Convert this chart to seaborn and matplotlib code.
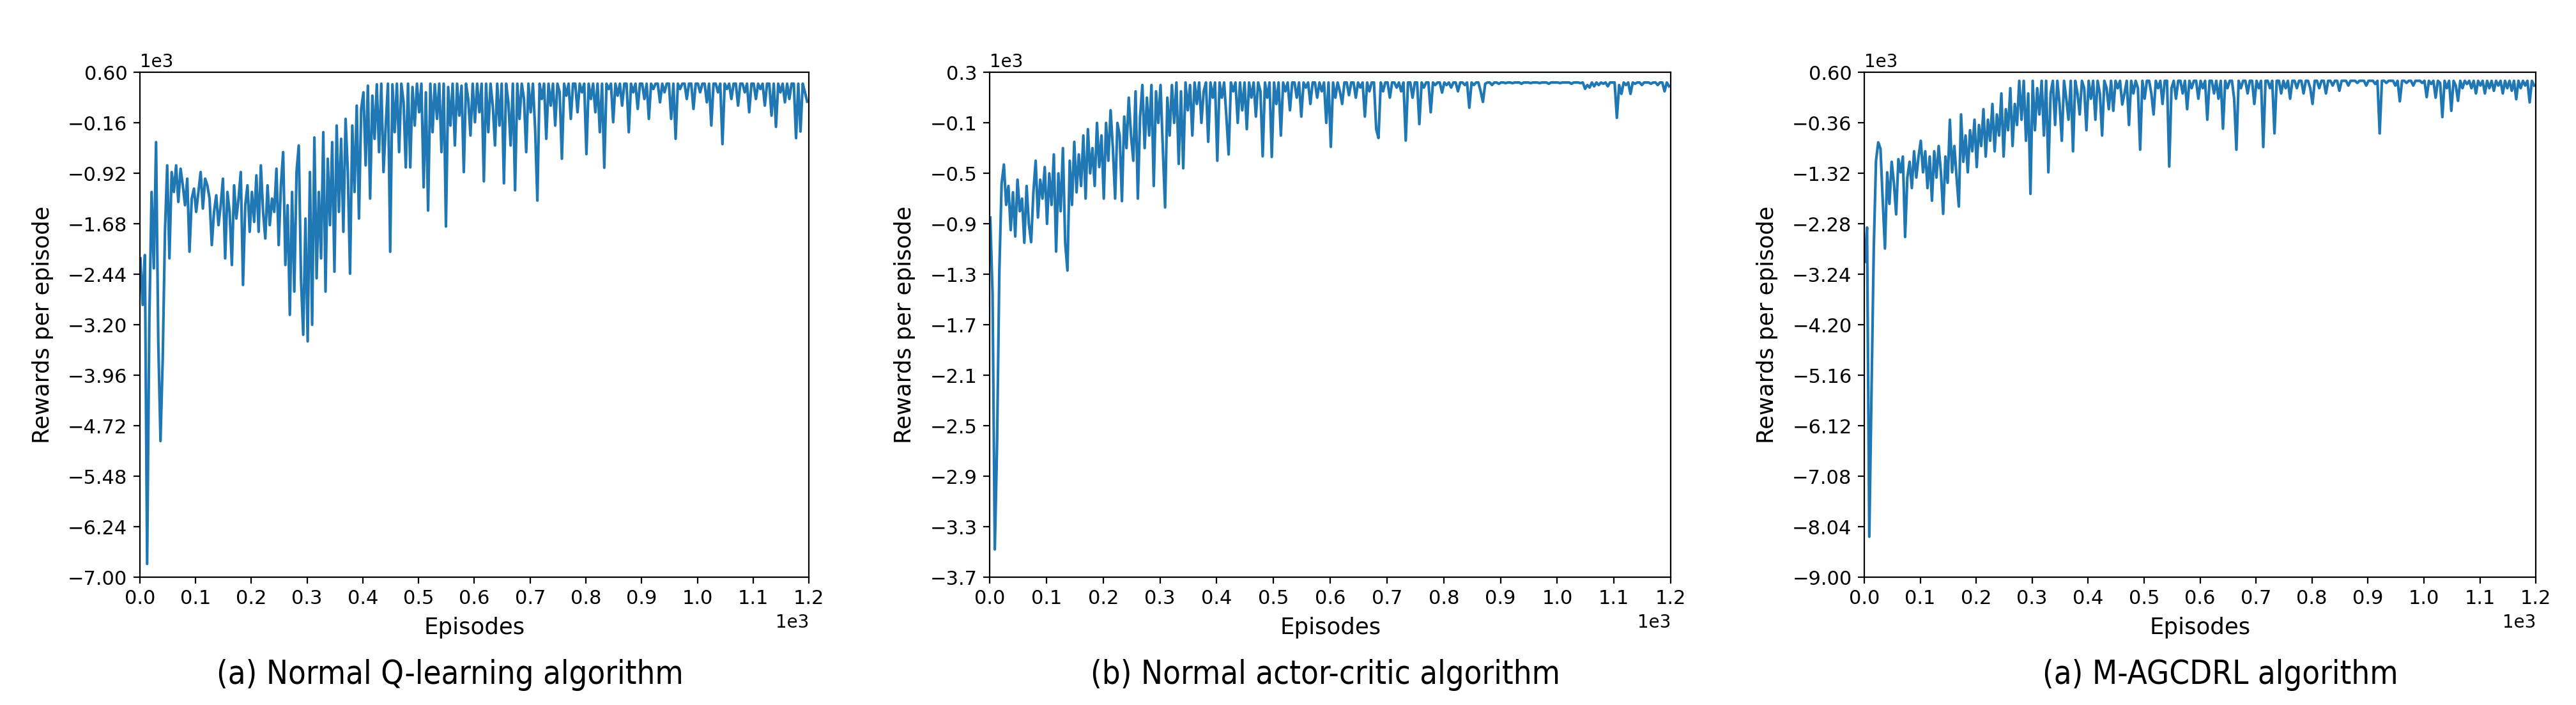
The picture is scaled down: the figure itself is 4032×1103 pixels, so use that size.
import numpy as np
import pandas as pd
import matplotlib
matplotlib.use("Agg")
import matplotlib.pyplot as plt
from matplotlib import font_manager as fm
import seaborn as sns

# Episodes sampled every 4 episodes (1, 5, 9, ..., 1197)
EPISODES = list(range(1, 1201, 4))

# (a) Normal Q-learning algorithm rewards
Q_LEARNING = [
    -2200, -2900, -2150, -6800, -3100, -1200, -2350, -450, -3450, -4950,
    -3700, -1800, -800, -2200, -900, -1200, -800, -1350, -850, -1100,
    -1400, -1000, -2100, -1300, -1150, -1500, -1200, -900, -1450, -1000,
    -1100, -1300, -2000, -1500, -1250, -1700, -1400, -1000, -2200, -1200,
    -1500, -2300, -1100, -1600, -1300, -900, -2600, -1400, -1100, -1800,
    -1200, -1650, -950, -1800, -800, -1500, -1900, -1100, -1700, -1300,
    -1500, -850, -2000, -1100, -600, -2300, -1400, -3050, -1200, -2700,
    -900, -500, -2500, -3350, -1600, -3450, -900, -3200, -380, -2500,
    -1200, -2200, -300, -2700, -700, -1700, -450, -2400, -200, -1500,
    -400, -1800, -100, -900, -2430, -200, -1200, 100, -1600, 50,
    300, -800, 400, -1300, 250, -400, 420, -600, 430, -900,
    -200, 430, -2100, 420, -300, 430, -600, 430, 150, -830,
    430, -830, 380, -200, 430, 0, 430, -1130, 300, -1480,
    430, -300, 420, -100, 430, -600, 430, -1720, 380, -200,
    430, -500, 430, -50, 400, -900, 430, 200, -350, 430,
    -150, 430, 0, 430, -1040, 430, -300, 430, 100, -500,
    430, -200, 430, -1070, 430, 150, -500, 430, -1175, 430,
    -100, 430, 200, -600, 430, 0, 430, -250, -1330, 430,
    200, 430, -400, 430, 100, 430, -200, 430, 300, -700,
    430, 250, 430, -100, 430, 430, 0, 430, 300, 430,
    -630, 430, 200, 430, 0, 430, -300, 430, -835, 430,
    350, 430, -150, 430, 250, 430, 100, 430, 430, -300,
    430, 300, 430, 50, 430, 430, 200, 430, -100, 430,
    350, 430, 430, 150, 430, 300, 430, 430, -100, 430,
    -400, 430, 350, 430, 430, 200, 430, 430, 50, 430,
    430, 300, 430, 430, 150, 430, -200, 430, 430, 300,
    430, -480, 430, 350, 430, 200, 430, 430, 100, 430,
    430, 300, 430, 0, 430, 430, 200, 430, 350, 430,
    100, 430, 430, -50, 430, -220, 430, 300, 430, 150,
    430, 200, 430, 430, -390, 430, -290, 430, 300, 160,
]

# (b) Normal actor-critic algorithm rewards
ACTOR_CRITIC = [
    -850, -1450, -3480, -2640, -1270, -580, -430, -750, -600, -950,
    -650, -1000, -550, -800, -700, -1050, -600, -900, -1045, -650,
    -400, -850, -550, -700, -450, -900, -500, -750, -350, -1120,
    -500, -800, -300, -1050, -1270, -400, -750, -250, -650, -350,
    -600, -200, -700, -150, -500, -300, -600, -100, -450, -200,
    -700, -100, -400, 0, -300, -700, -100, -200, -720, -50,
    -300, 100, -200, -400, 150, -700, -50, 200, -300, 100,
    -200, 200, -600, 150, -100, 200, -300, -770, 100, -200,
    200, -100, 220, -425, 150, -460, 220, 0, 200, -200,
    220, 50, 220, -100, 150, 220, -250, 220, 100, 220,
    -400, 220, 100, 220, -50, -350, 220, 150, 220, -100,
    220, 0, 220, -150, 220, 100, 220, -50, 220, 150,
    -365, 220, 100, 220, -370, 220, 50, 220, -200, 220,
    150, 220, 0, 220, 220, 100, 220, -50, 220, 180,
    220, 50, 220, 220, 100, 220, 150, 220, -100, 220,
    -290, 220, 100, 220, 150, 50, 220, 220, 120, 220,
    220, 100, 220, 180, 220, -50, 220, 150, 220, 220,
    -150, -220, 220, 150, 220, 220, 100, 220, 220, 180,
    220, 150, 220, -240, 220, 220, 100, 220, 220, -110,
    220, 180, 220, 220, -16, 220, 200, 220, 220, 140,
    220, 200, 220, 180, 220, 220, 150, 220, 220, 200,
    220, 20, 220, 200, 220, 220, 150, 66, 210, 220,
    220, 200, 220, 220, 210, 220, 220, 215, 220, 220,
    215, 220, 220, 220, 210, 220, 220, 220, 215, 220,
    220, 220, 215, 220, 220, 220, 210, 220, 220, 220,
    220, 215, 220, 220, 220, 220, 210, 220, 220, 220,
    215, 220, 170, 200, 180, 220, 190, 220, 200, 220,
    210, 220, 190, 220, 220, 220, -60, 200, 130, 220,
    200, 220, 130, 220, 210, 220, 220, 200, 220, 220,
    220, 210, 220, 220, 200, 220, 220, 150, 220, 190,
]

# (c) M-AGCDRL algorithm rewards
M_AGCDRL = [
    -3000, -2350, -8230, -5440, -2750, -1080, -730, -850, -1840, -2750,
    -1300, -1900, -1100, -1500, -2100, -1050, -1300, -1000, -2530, -1400,
    -1100, -1600, -900, -1400, -1000, -700, -1300, -900, -1600, -1000,
    -1840, -900, -1400, -800, -1300, -2090, -1000, -1500, -300, -1300,
    -800, -1400, -1950, -200, -1100, -600, -1300, -500, -900, -300,
    -1200, -400, -800, -100, -1000, -300, -700, 0, -900, -200,
    -600, 200, -1000, -100, -500, 300, -800, 0, -400, 440,
    -300, 440, -700, 200, -1710, 440, -500, 300, -200, 440,
    -600, 440, -1300, 200, 440, -400, 440, 0, -700, 440,
    100, -300, 440, -900, 440, 200, -200, 440, 300, -500,
    440, 100, 440, -300, 440, 200, -600, 440, 300, -100,
    440, -130, 440, 300, 440, -10, 200, 440, -400, 440,
    200, 440, 300, -870, 440, 100, 440, 440, 200, -200,
    440, 300, 440, 0, 440, 440, -1190, 300, 440, 100,
    440, 440, 200, 440, -100, 440, 300, 440, 440, 100,
    440, 300, 440, -300, 440, 440, 200, 440, 100, 440,
    -470, 440, 300, 440, 440, 100, -870, 440, 300, 440,
    440, 200, 440, 440, 0, 440, 300, 440, -820, 440,
    440, 300, 440, -560, 440, 440, 200, 440, 300, 440,
    100, 440, 440, 300, 440, 440, 200, 440, 440, 300,
    0, 440, 440, 300, 440, 440, 200, 440, 440, 350,
    440, 440, 250, 440, 440, 440, 350, 440, 440, 440,
    400, 440, 440, 440, 350, 440, 440, 440, 380, 440,
    -560, 440, 440, 400, 440, 440, 440, 350, 440, 50,
    440, 440, 400, 440, 440, 350, 440, 440, 440, 400,
    440, 130, 440, 380, 440, 120, 440, 400, -250, 440,
    300, 440, -130, 440, 350, 60, 440, 300, 440, 380,
    440, 300, 440, 200, 440, 350, 440, 200, 440, 300,
    440, 250, 440, 350, 440, 200, 440, 300, 440, 250,
    440, 90, 440, 300, 440, 350, 440, 30, 440, 350,
]

CAPTIONS = [
    "(a) Normal Q-learning algorithm",
    "(b) Normal actor-critic algorithm",
    "(a) M-AGCDRL algorithm",
]
Y_RANGES = [(-7000, 600), (-3700, 300), (-9000, 600)]
X_LABEL = "Episodes"
Y_LABEL = "Rewards per episode"

SERIES = [Q_LEARNING, ACTOR_CRITIC, M_AGCDRL]

plt.rcParams["font.family"] = ["DejaVu Sans"]

# pick a narrow font for the captions if one is installed
_fonts = fm.fontManager.ttflist
_names = {f.name for f in _fonts}
if "Liberation Sans Narrow" in _names:
    cap_kw = dict(family=["Liberation Sans Narrow", "DejaVu Sans"])
elif any(f.name == "DejaVu Sans" and str(f.stretch) in ("condensed", "semi-condensed") for f in _fonts):
    cap_kw = dict(family=["DejaVu Sans"], stretch="condensed")
elif "Roboto Condensed" in _names:
    cap_kw = dict(family=["Roboto Condensed", "DejaVu Sans"])
else:
    cap_kw = dict(family=["Roboto", "DejaVu Sans"])

fig = plt.figure(figsize=(20.16, 5.515), dpi=200)

lefts = [0.0543, 0.3842, 0.7237]
widths = [0.2597, 0.2644, 0.2607]
bottom, height = 0.1813, 0.716
cap_x = [0.1746, 0.5145, 0.8620]

caps = []
for i, vals in enumerate(SERIES):
    ax = fig.add_axes([lefts[i], bottom, widths[i], height])
    df = pd.DataFrame({"episode": EPISODES, "reward": vals})
    sns.lineplot(data=df, x="episode", y="reward", ax=ax, color="#1f77b4",
                 linewidth=1.5, estimator=None)
    lo, hi = Y_RANGES[i]
    ax.set_xlim(0, 1200)
    ax.set_ylim(lo, hi)
    ax.set_xticks(np.arange(0, 1201, 100))
    ax.set_yticks(np.linspace(lo, hi, 11))
    ax.ticklabel_format(style="sci", axis="both", scilimits=(0, 0))
    ax.tick_params(labelsize=11)
    ax.xaxis.get_offset_text().set_fontsize(10)
    ax.yaxis.get_offset_text().set_fontsize(10)
    ax.set_xlabel(X_LABEL, fontsize=12.8, labelpad=5)
    ax.set_ylabel(Y_LABEL, fontsize=12.8, labelpad=8)
    t = fig.text(cap_x[i], 0.043, CAPTIONS[i], ha="center", va="center",
                 fontsize=18, **cap_kw)
    caps.append(t)

# fit caption size so that caption (b) is about 736 px wide
fig.canvas.draw()
r = fig.canvas.get_renderer()
w = caps[1].get_window_extent(renderer=r).width
scale = 736.0 / w
for t in caps:
    t.set_fontsize(18 * scale)

fig.savefig("out.png", dpi=200)
